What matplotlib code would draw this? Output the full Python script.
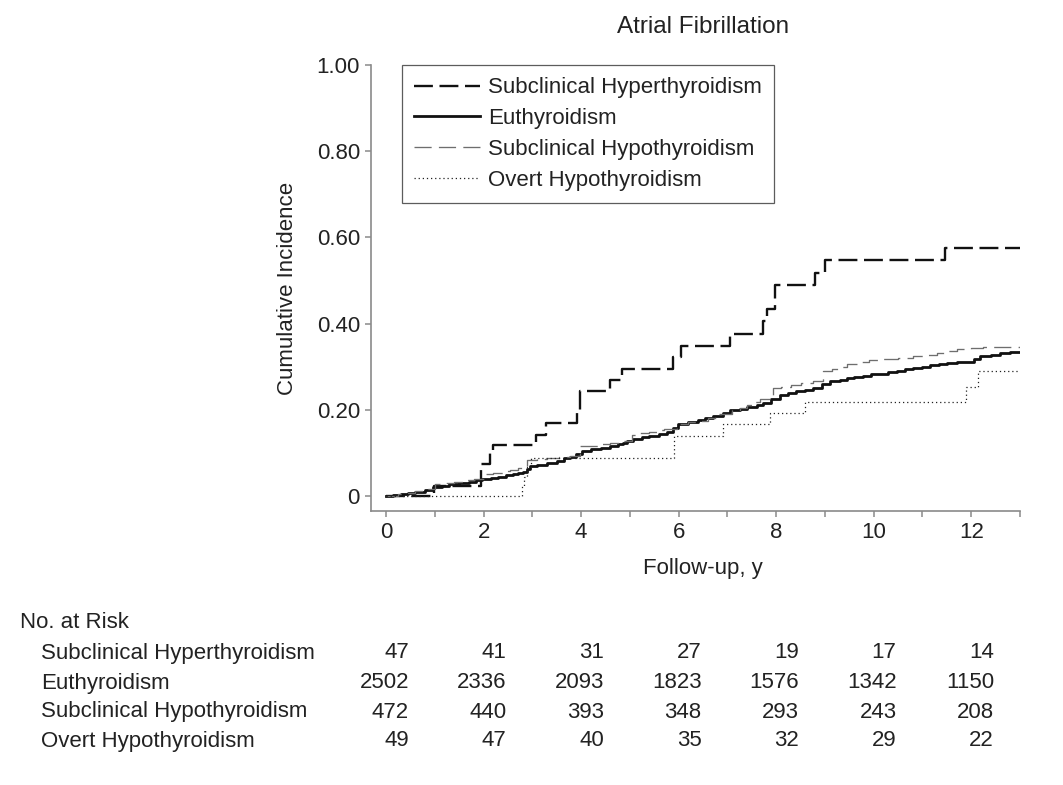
import matplotlib
matplotlib.use("Agg")
import matplotlib.pyplot as plt
import matplotlib.transforms as mtransforms

plt.rcParams['font.family'] = ['Liberation Sans', 'DejaVu Sans']

TXT = '#222222'
SPINE = '#8a8a8a'

# ---------------- data ----------------
groups = ['Subclinical Hyperthyroidism', 'Euthyroidism',
          'Subclinical Hypothyroidism', 'Overt Hypothyroidism']

hyper_t = [0, 0.98, 1.94, 2.13, 2.20, 3.07, 3.27, 3.91, 3.98, 4.60, 4.84,
           5.88, 6.05, 7.06, 7.74, 7.82, 7.98, 8.79, 9.00, 11.47, 13.0]
hyper_y = [0, 0.023, 0.074, 0.103, 0.118, 0.142, 0.169, 0.193, 0.244, 0.270,
           0.295, 0.322, 0.349, 0.377, 0.405, 0.435, 0.489, 0.518, 0.547,
           0.575, 0.575]

euth_t = [0, 0.15, 0.3, 0.45, 0.6, 0.8, 0.97, 1.15, 1.3, 1.5, 1.7, 1.85,
          1.96, 2.15, 2.3, 2.45, 2.6, 2.7, 2.8, 2.88, 2.95, 3.1, 3.3, 3.5,
          3.65, 3.77, 3.9, 4.01, 4.2, 4.4, 4.6, 4.75, 4.86, 4.95, 5.07, 5.25,
          5.4, 5.6, 5.76, 5.88, 5.99, 6.2, 6.4, 6.55, 6.71, 6.9, 7.06, 7.25,
          7.4, 7.6, 7.74, 7.9, 8.08, 8.25, 8.4, 8.6, 8.76, 8.95, 9.1, 9.3,
          9.45, 9.6, 9.79, 9.95, 10.1, 10.3, 10.48, 10.65, 10.8, 11.0, 11.16,
          11.35, 11.5, 11.7, 11.92, 12.05, 12.18, 12.4, 12.6, 12.8, 13.0]
euth_y = [0, 0.003, 0.005, 0.008, 0.010, 0.014, 0.020, 0.023, 0.027, 0.030,
          0.033, 0.037, 0.040, 0.042, 0.045, 0.048, 0.050, 0.053, 0.056,
          0.063, 0.070, 0.073, 0.077, 0.082, 0.087, 0.091, 0.098, 0.105,
          0.108, 0.112, 0.116, 0.120, 0.123, 0.128, 0.133, 0.136, 0.139,
          0.143, 0.148, 0.158, 0.168, 0.172, 0.177, 0.181, 0.185, 0.192,
          0.200, 0.203, 0.207, 0.212, 0.216, 0.226, 0.235, 0.239, 0.243,
          0.247, 0.251, 0.259, 0.266, 0.270, 0.273, 0.276, 0.279, 0.282,
          0.284, 0.287, 0.290, 0.294, 0.297, 0.300, 0.304, 0.306, 0.308,
          0.310, 0.312, 0.318, 0.324, 0.328, 0.332, 0.333, 0.333]

hypo_t = [0, 0.25, 0.4, 0.6, 0.8, 1.0, 1.2, 1.4, 1.6, 1.8, 2.0, 2.2, 2.4,
          2.55, 2.7, 2.9, 3.1, 3.3, 3.55, 3.77, 3.98, 4.2, 4.4, 4.6, 4.84,
          5.05, 5.2, 5.4, 5.55, 5.7, 5.97, 6.2, 6.4, 6.6, 6.8, 7.1, 7.25, 7.4,
          7.55, 7.67, 7.94, 8.1, 8.3, 8.5, 8.76, 8.96, 9.15, 9.3, 9.45, 9.65,
          9.9, 10.2, 10.5, 10.8, 11.05, 11.3, 11.5, 11.7, 12.0, 12.25, 13.0]
hypo_y = [0, 0.005, 0.008, 0.012, 0.017, 0.027, 0.030, 0.033, 0.037, 0.040,
          0.050, 0.054, 0.058, 0.061, 0.065, 0.084, 0.085, 0.087, 0.090,
          0.093, 0.115, 0.117, 0.120, 0.124, 0.128, 0.142, 0.145, 0.148,
          0.152, 0.156, 0.167, 0.171, 0.175, 0.182, 0.190, 0.200, 0.205,
          0.210, 0.217, 0.225, 0.250, 0.254, 0.258, 0.262, 0.266, 0.289,
          0.294, 0.300, 0.306, 0.312, 0.315, 0.318, 0.321, 0.324, 0.328,
          0.332, 0.336, 0.340, 0.343, 0.346, 0.347]

overt_t = [0, 2.78, 2.83, 2.88, 2.98, 5.90, 6.90, 7.88, 8.59, 11.90, 12.14, 13.0]
overt_y = [0, 0.022, 0.044, 0.067, 0.089, 0.140, 0.167, 0.192, 0.218, 0.253,
           0.289, 0.289]

risk_times = [0, 2, 4, 6, 8, 10, 12]
risk_hyper = [47, 41, 31, 27, 19, 17, 14]
risk_euth = [2502, 2336, 2093, 1823, 1576, 1342, 1150]
risk_hypo = [472, 440, 393, 348, 293, 243, 208]
risk_overt = [49, 47, 40, 35, 32, 29, 22]

y_ticks = [0, 0.2, 0.4, 0.6, 0.8, 1.0]
y_ticklabels = ['0', '0.20', '0.40', '0.60', '0.80', '1.00']
x_major = [0, 2, 4, 6, 8, 10, 12]
x_minor = [1, 3, 5, 7, 9, 11, 13]

# ---------------- figure ----------------
fig = plt.figure(figsize=(10.63, 7.85), dpi=100)
ax = fig.add_axes([0.349, 0.349, 0.6105, 0.568])

FS = 16

ax.step(hyper_t, hyper_y, where='post', color='#111111', lw=1.7,
        ls=(0, (8.0, 2.8)), label=groups[0])
ax.step(euth_t, euth_y, where='post', color='#111111', lw=2.0,
        label=groups[1])
ax.step(hypo_t, hypo_y, where='post', color='#6e6e6e', lw=0.95,
        ls=(0, (13, 5.5)), label=groups[2])
ax.step(overt_t, overt_y, where='post', color='#222222', lw=0.9,
        ls=(0, (1, 2.3)), label=groups[3])

ax.set_xlim(-0.31, 13.0)
ax.set_ylim(-0.035, 1.0)

for s in ['top', 'right']:
    ax.spines[s].set_visible(False)
for s in ['left', 'bottom']:
    ax.spines[s].set_color(SPINE)
    ax.spines[s].set_linewidth(1.2)

ax.set_yticks(y_ticks)
ax.set_yticklabels(y_ticklabels)
ax.set_xticks(x_major)
ax.set_xticks(x_minor, minor=True)
ax.tick_params(axis='both', which='both', direction='out', length=4.5,
               width=1.1, color=SPINE, labelsize=FS, labelcolor=TXT, pad=3.5)

ax.set_xlabel('Follow-up, y', fontsize=FS, color=TXT)
ax.xaxis.set_label_coords((6.5 + 0.31) / 13.31, -0.105)
ax.set_ylabel('Cumulative Incidence', fontsize=FS, color=TXT)
ax.yaxis.set_label_coords(-0.113, 0.5)

leg = ax.legend(loc='upper left', bbox_to_anchor=(0.048, 1.0),
                borderaxespad=0, frameon=True, fancybox=False,
                fontsize=FS, handlelength=2.95, handletextpad=0.36,
                labelspacing=0.44, borderpad=0.55)
leg.get_frame().set_edgecolor('#333333')
leg.get_frame().set_linewidth(0.9)
for t in leg.get_texts():
    t.set_color(TXT)

blend = mtransforms.blended_transform_factory(ax.transData, fig.transFigure)

ax.text(6.5, 1 - 27 / 785, 'Atrial Fibrillation', transform=blend,
        ha='center', va='center', fontsize=17.5, color=TXT)

# ---------------- risk table ----------------
fig.text(20 / 1063, 1 - 623 / 785, 'No. at Risk', fontsize=FS, color=TXT,
         ha='left', va='center')
rows = [risk_hyper, risk_euth, risk_hypo, risk_overt]
row_y = [653, 683, 712, 741]
for name, vals, ypx in zip(groups, rows, row_y):
    yf = 1 - ypx / 785
    fig.text(41 / 1063, yf, name, fontsize=FS, color=TXT, ha='left',
             va='center')
    for t, v in zip(risk_times, vals):
        ax.text(t + 0.47, yf, str(v), transform=blend, fontsize=FS,
                color=TXT, ha='right', va='center', clip_on=False)

fig.savefig('out.png', dpi=100)
